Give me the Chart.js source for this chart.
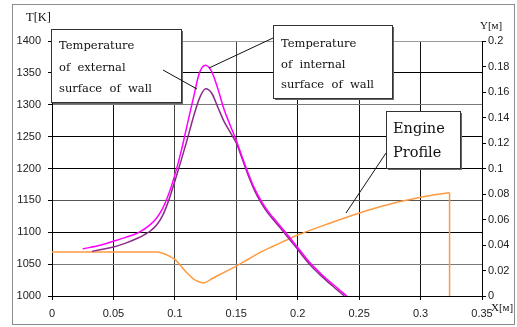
<!DOCTYPE html>
<html>
<head>
<meta charset="utf-8">
<script src="https://cdn.jsdelivr.net/npm/chart.js@4.4.0/dist/chart.umd.min.js"></script>
<style>
  body { margin: 0; background: #fff; }
  canvas { display: block; }
</style>
</head>
<body>
<canvas id="c" width="517" height="327"></canvas>
<script>
// tick values / labels
const xTicks = [0, 0.05, 0.1, 0.15, 0.2, 0.25, 0.3, 0.35];
const xTickLabels = ['0', '0.05', '0.1', '0.15', '0.2', '0.25', '0.3', '0.35'];
const tTicks = [1000, 1050, 1100, 1150, 1200, 1250, 1300, 1350, 1400];
const tTickLabels = ['1000', '1050', '1100', '1150', '1200', '1250', '1300', '1350', '1400'];
const yTicks = [0, 0.02, 0.04, 0.06, 0.08, 0.1, 0.12, 0.14, 0.16, 0.18, 0.2];
const yTickLabels = ['0', '0.02', '0.04', '0.06', '0.08', '0.1', '0.12', '0.14', '0.16', '0.18', '0.2'];

// temperature of internal surface of wall [K]
const innerX = [0.025, 0.04, 0.05, 0.06, 0.07, 0.08, 0.085, 0.09, 0.095, 0.1, 0.105, 0.11, 0.115, 0.12, 0.125,
                0.13, 0.135, 0.14, 0.145, 0.15, 0.155, 0.16, 0.165, 0.17, 0.175, 0.18, 0.19, 0.2, 0.21, 0.22, 0.23, 0.24];
const innerT = [1074, 1080, 1086, 1092, 1099, 1112, 1122, 1137, 1160, 1190, 1226, 1268, 1310, 1350, 1362,
                1352, 1325, 1293, 1268, 1244, 1217, 1191, 1168, 1150, 1135, 1123, 1100, 1076, 1052, 1033, 1016, 1000];

// temperature of external surface of wall [K]
const outerX = [0.0325, 0.04, 0.05, 0.06, 0.07, 0.075, 0.08, 0.085, 0.09, 0.095, 0.1, 0.105, 0.11, 0.115, 0.12, 0.125,
                0.13, 0.135, 0.14, 0.145, 0.15, 0.155, 0.16, 0.165, 0.17, 0.175, 0.18, 0.19, 0.2, 0.21, 0.22, 0.23, 0.238];
const outerT = [1070, 1073, 1077, 1083, 1091, 1096, 1102, 1111, 1126, 1150, 1180, 1212, 1245, 1280, 1310, 1325,
                1318, 1296, 1274, 1257, 1240, 1214, 1188, 1165, 1147, 1132, 1120, 1097, 1073, 1049, 1030, 1013, 1000];

// engine profile Y [m]
const profileX = [0, 0.085, 0.09, 0.095, 0.1, 0.105, 0.11, 0.115, 0.12, 0.1235, 0.13, 0.14, 0.15, 0.16, 0.17,
                  0.18, 0.19, 0.2, 0.22, 0.24, 0.26, 0.28, 0.3, 0.31, 0.3236];
const profileY = [0.0345, 0.0345, 0.0335, 0.0315, 0.0287, 0.0235, 0.018, 0.0135, 0.011, 0.0102, 0.0135, 0.0185, 0.0235, 0.029, 0.0345,
                  0.039, 0.0435, 0.0478, 0.055, 0.0618, 0.068, 0.0733, 0.0774, 0.0792, 0.081];
const nozzleEndX = [0.3236, 0.3236];
const nozzleEndY = [0.081, 0];

function pts(xs, ys) {
  return xs.map((x, i) => ({ x: x, y: ys[i] }));
}

function gridColorT(c) {
  const v = c.tick && c.tick.value;
  if (v === 1400) return '#9a9a9a';
  if (v === 1300 || v === 1050) return '#7a7a7a';
  if (v === 1150) return '#555';
  return '#000';
}

function gridColorX(c) {
  const v = c.tick && c.tick.value;
  if (v === 0.1 || v === 0.15) return '#444';
  return '#111';
}

const decor = {
  id: 'decor',
  afterDraw(chart) {
    const ctx = chart.ctx;
    ctx.save();
    // outer frame
    ctx.strokeStyle = '#8c8c8c';
    ctx.lineWidth = 1;
    ctx.strokeRect(12.5, 4.5, 502, 320);

    // axis titles
    ctx.fillStyle = '#111';
    ctx.textBaseline = 'alphabetic';
    ctx.textAlign = 'left';
    ctx.font = '12.5px "Liberation Serif"';
    ctx.fillText('T[K]', 26, 21);
    ctx.font = '11px "Liberation Serif"';
    ctx.fillText('Y[м]', 480, 29);
    ctx.fillText('X[м]', 491, 311);

    function box(x, y, w, h) {
      ctx.fillStyle = '#666';
      ctx.fillRect(x + 2, y + 2, w, h);
      ctx.fillStyle = '#fff';
      ctx.fillRect(x, y, w, h);
      ctx.strokeStyle = '#333';
      ctx.strokeRect(x + 0.5, y + 0.5, w, h);
    }
    function line(x1, y1, x2, y2) {
      ctx.strokeStyle = '#111';
      ctx.beginPath();
      ctx.moveTo(x1, y1);
      ctx.lineTo(x2, y2);
      ctx.stroke();
    }

    box(51, 29, 130, 73);
    box(273, 25, 119, 73);
    box(386, 111, 74, 57);

    line(163, 70, 197, 89);
    line(209, 68, 273, 38);
    line(346, 213, 386, 153);

    ctx.fillStyle = '#111';
    ctx.font = '11.5px "DejaVu Serif"';
    ctx.fillText('Temperature', 59, 49);
    ctx.fillText('of  external', 59, 71);
    ctx.fillText('surface  of  wall', 59, 92);
    ctx.fillText('Temperature', 281, 47);
    ctx.fillText('of  internal', 281, 68);
    ctx.fillText('surface  of  wall', 281, 88);
    ctx.font = '14.5px "DejaVu Serif"';
    ctx.fillText('Engine', 393, 133);
    ctx.fillText('Profile', 393, 157);
    ctx.restore();
  }
};

const tickFont = { family: '"Liberation Sans", Arial, sans-serif', size: 11 };

new Chart(document.getElementById('c'), {
  type: 'scatter',
  data: {
    datasets: [
      {
        label: 'Temperature of internal surface of wall',
        data: pts(innerX, innerT),
        showLine: true,
        borderColor: '#ff00ff',
        borderWidth: 1.5,
        pointRadius: 0,
        cubicInterpolationMode: 'monotone',
        yAxisID: 'y'
      },
      {
        label: 'Temperature of external surface of wall',
        data: pts(outerX, outerT),
        showLine: true,
        borderColor: '#8a2a8a',
        borderWidth: 1.5,
        pointRadius: 0,
        cubicInterpolationMode: 'monotone',
        yAxisID: 'y'
      },
      {
        label: 'Engine Profile',
        data: pts(profileX, profileY),
        showLine: true,
        borderColor: '#ff9a40',
        borderWidth: 1.5,
        pointRadius: 0,
        cubicInterpolationMode: 'monotone',
        yAxisID: 'y2'
      },
      {
        label: 'Engine Profile end',
        data: pts(nozzleEndX, nozzleEndY),
        showLine: true,
        borderColor: '#ff9a40',
        borderWidth: 1.5,
        pointRadius: 0,
        tension: 0,
        yAxisID: 'y2'
      }
    ]
  },
  options: {
    responsive: false,
    animation: false,
    layout: { padding: { left: 0, right: 0, top: 41, bottom: 0 } },
    plugins: {
      legend: { display: false },
      tooltip: { enabled: false }
    },
    scales: {
      x: {
        type: 'linear',
        min: 0,
        max: 0.35,
        afterBuildTicks: s => { s.ticks = xTicks.map(v => ({ value: v })); },
        afterFit: s => { s.height = 31; },
        ticks: {
          font: tickFont,
          color: '#222',
          padding: 7,
          maxRotation: 0,
          autoSkip: false,
          callback: (v, i) => xTickLabels[i]
        },
        grid: { color: gridColorX, tickLength: 4, tickColor: '#000' },
        border: { color: '#000' }
      },
      y: {
        type: 'linear',
        position: 'left',
        min: 1000,
        max: 1400,
        afterBuildTicks: s => { s.ticks = tTicks.map(v => ({ value: v })); },
        afterFit: s => { s.width = 52; },
        ticks: {
          font: tickFont,
          color: '#222',
          padding: 7,
          autoSkip: false,
          callback: (v, i) => tTickLabels[i]
        },
        grid: { color: gridColorT, tickLength: 4, tickColor: '#000' },
        border: { color: '#000' }
      },
      y2: {
        type: 'linear',
        position: 'right',
        min: 0,
        max: 0.2,
        afterBuildTicks: s => { s.ticks = yTicks.map(v => ({ value: v })); },
        afterFit: s => { s.width = 35; },
        ticks: {
          font: tickFont,
          color: '#222',
          padding: 2,
          autoSkip: false,
          callback: (v, i) => yTickLabels[i]
        },
        grid: { drawOnChartArea: false, tickLength: 4, color: '#000' },
        border: { color: '#000' }
      }
    }
  },
  plugins: [decor]
});
</script>
</body>
</html>
